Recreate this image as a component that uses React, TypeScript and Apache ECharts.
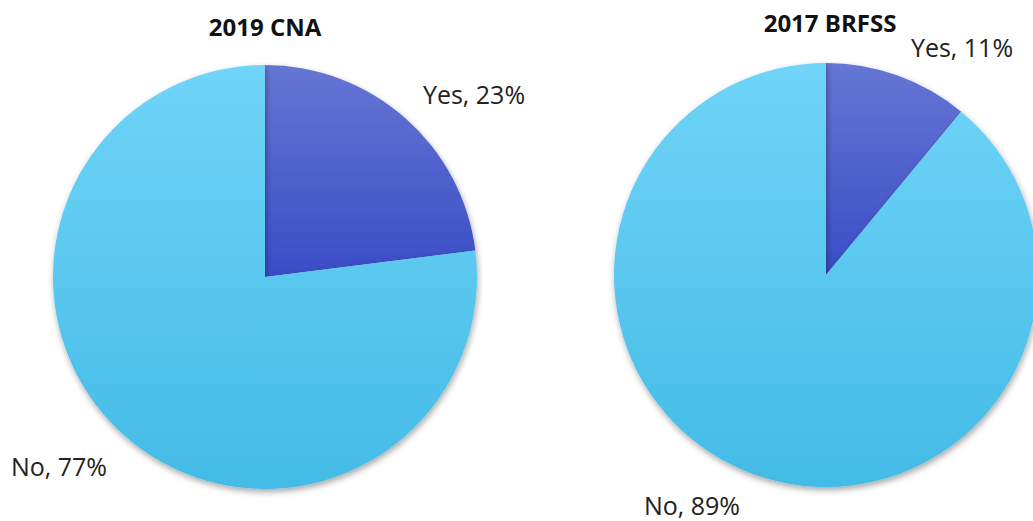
import React, { useEffect, useRef } from "react";
import * as echarts from "echarts";

const chartTitles = ["2019 CNA", "2017 BRFSS"];
const categories = ["Yes", "No"];
const cnaValues = [23, 77];
const brfssValues = [11, 89];

const FONT = "'Open Sans', Lato, sans-serif";

const yesColor = new echarts.graphic.LinearGradient(0, 0, 0, 1, [
  { offset: 0, color: "#6676D4" },
  { offset: 1, color: "#3A4DC6" },
]);
const noColor = new echarts.graphic.LinearGradient(0, 0, 0, 1, [
  { offset: 0, color: "#70D4F8" },
  { offset: 1, color: "#43BBE6" },
]);

// label positions (pixel) per pie, per slice
const labelPos = [
  [
    { x: 474, y: 94 },
    { x: 59, y: 466 },
  ],
  [
    { x: 962, y: 47 },
    { x: 692, y: 505 },
  ],
];

function makeSeries(values: number[], center: [number, number], idx: number) {
  return {
    type: "pie",
    radius: 212,
    center,
    startAngle: 90,
    clockwise: true,
    data: categories.map((c, i) => ({
      name: c,
      value: values[i],
      itemStyle: { color: i === 0 ? yesColor : noColor },
    })),
    itemStyle: {
      shadowBlur: 6,
      shadowOffsetY: 3,
      shadowOffsetX: 1,
      shadowColor: "rgba(0,0,0,0.35)",
    },
    label: {
      show: true,
      formatter: "{b}, {c}%",
      fontFamily: FONT,
      fontSize: 25,
      color: "#222",
      align: "center",
      verticalAlign: "middle",
      overflow: "none",
      width: 220,
    },
    labelLine: { show: false },
    labelLayout: (p: any) => {
      const pos = labelPos[idx][p.dataIndex];
      return { x: pos.x, y: pos.y, align: "center", verticalAlign: "middle" };
    },
    emphasis: { disabled: true },
  };
}

export default function App() {
  const ref = useRef<HTMLDivElement>(null);
  useEffect(() => {
    if (!ref.current) return;
    const chart = echarts.init(ref.current, undefined, { renderer: "svg" });
    chart.setOption({
      animation: false,
      backgroundColor: "#ffffff",
      title: [
        {
          text: chartTitles[0],
          left: 260,
          top: 9,
          textAlign: "center",
          textStyle: { fontFamily: FONT, fontSize: 24, fontWeight: "bold", color: "#111" },
        },
        {
          text: chartTitles[1],
          left: 825,
          top: 5,
          textAlign: "center",
          textStyle: { fontFamily: FONT, fontSize: 24, fontWeight: "bold", color: "#111" },
        },
      ],
      series: [
        makeSeries(cnaValues, [265, 277], 0),
        makeSeries(brfssValues, [826, 275], 1),
      ],
    });
    return () => chart.dispose();
  }, []);
  return (
    <div
      ref={ref}
      style={{ position: "fixed", left: 0, top: 0, width: 1033, height: 521 }}
    />
  );
}
